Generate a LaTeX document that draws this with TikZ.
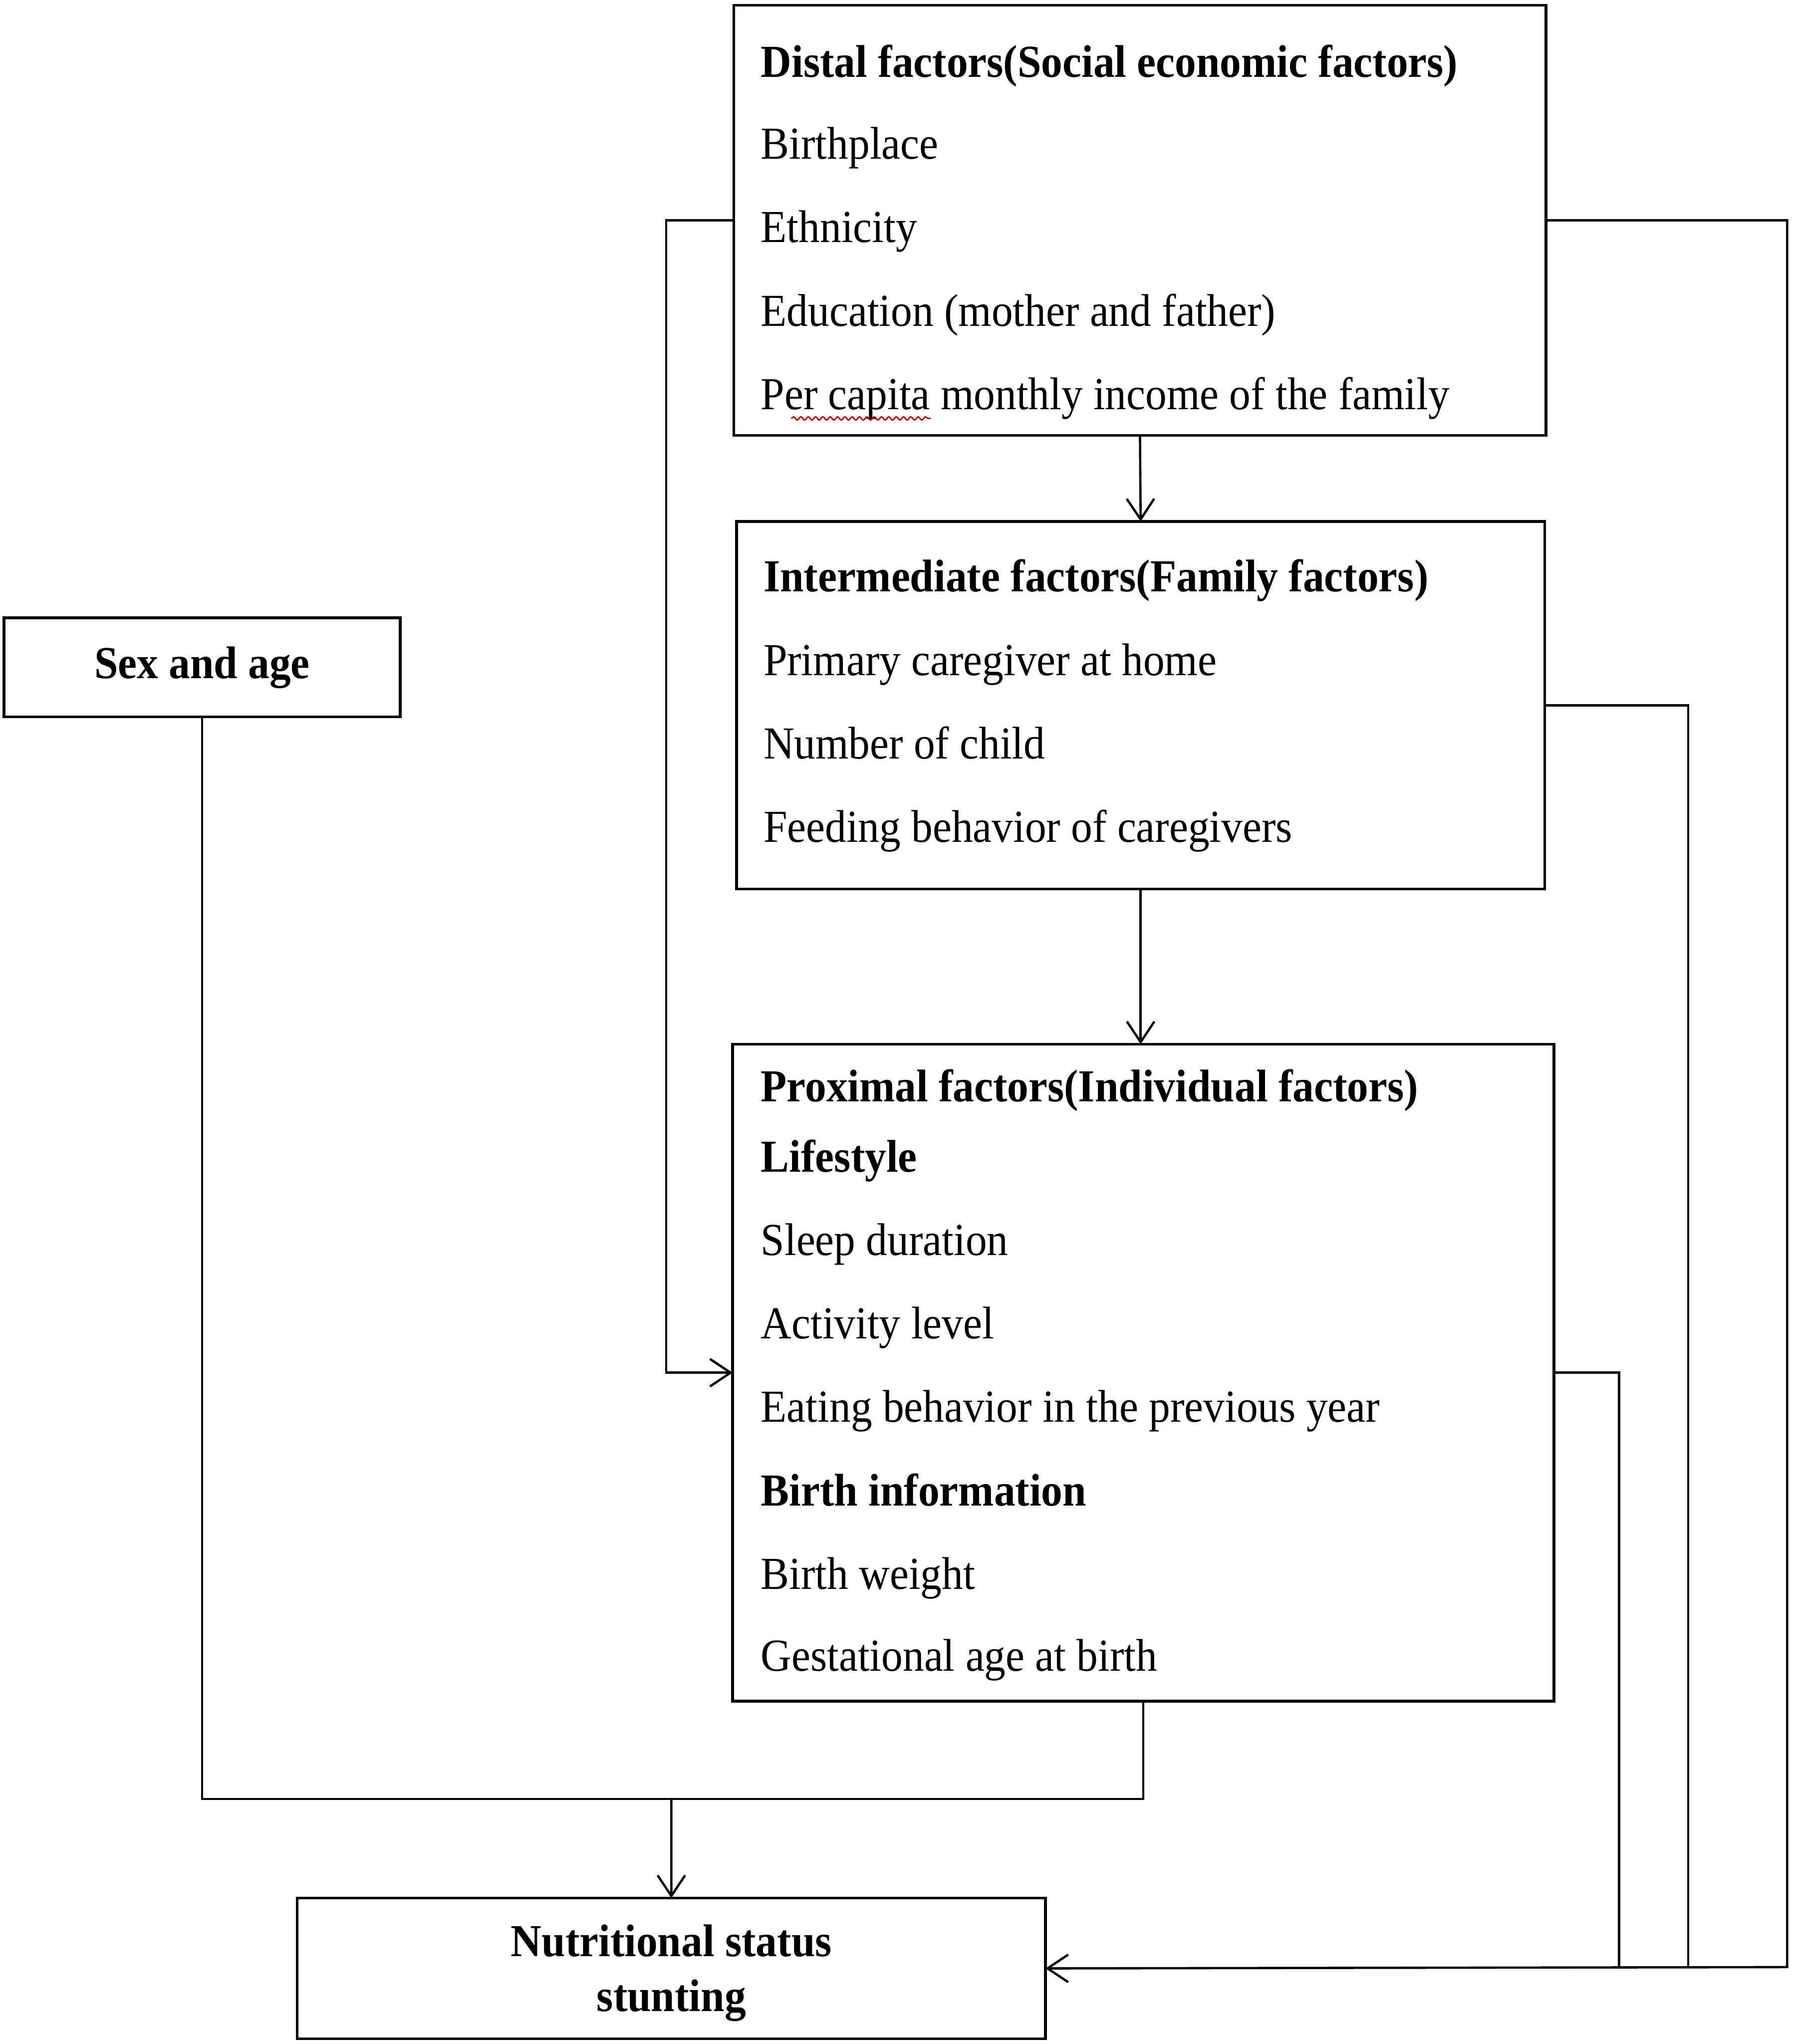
\documentclass[tikz,border=0pt]{standalone}
\usepackage{fontspec}
\setmainfont{Liberation Serif}[FakeStretch=0.93]
\usetikzlibrary{arrows.meta,positioning,decorations.pathmorphing}

\tikzset{
  box/.style={draw,line width=.6pt,outer sep=0pt,inner sep=0pt},
  txt/.style={anchor=base west,inner sep=0pt},
  conn/.style={line width=.5pt},
  arr/.style={conn,-{Straight Barb[length=4.5pt,width=6pt]}}
}

\begin{document}
\begin{tikzpicture}[x=1cm,y=-1cm,font=\fontsize{10}{12}\selectfont]
\useasboundingbox (0,0) rectangle (13.76,15.68);
% boxes
\node[box,anchor=north west,minimum width=6.23cm,minimum height=3.30cm] (distal) at (5.63,.04) {};
\node[box,anchor=north west,minimum width=6.20cm,minimum height=2.82cm] (inter) at (5.65,4.00) {};
\node[box,anchor=north west,minimum width=6.30cm,minimum height=5.04cm] (prox) at (5.62,8.01) {};
\node[box,anchor=north west,minimum width=3.04cm,minimum height=.76cm,font=\fontsize{10}{12}\selectfont\bfseries] (sexage) at (.03,4.74) {Sex and age};
\node[box,anchor=north west,minimum width=5.74cm,minimum height=1.08cm,align=center,font=\fontsize{10}{12}\selectfont\bfseries] (status) at (2.28,14.56) {\rule{0pt}{9pt}Nutritional status\\stunting};
% distal text
\node[txt,font=\bfseries] (d0) at (5.83,.59) {Distal factors(Social economic factors)};
\node[txt] (d1) at (5.83,1.22) {Birthplace};
\node[txt] (d2) at (5.83,1.86) {Ethnicity};
\node[txt] (d3) at (5.83,2.50) {Education (mother and father)};
\node[txt] (d4) at (5.83,3.14) {Per capita monthly income of the family};
\draw[red!70!black,line width=.3pt,decorate,decoration={snake,amplitude=.35pt,segment length=1.6pt}] (6.07,3.21) -- (7.14,3.21);
% intermediate text
\node[txt,font=\bfseries] (i0) at (5.85,4.54) {Intermediate factors(Family factors)};
\node[txt] (i1) at (5.85,5.18) {Primary caregiver at home};
\node[txt] (i2) at (5.85,5.82) {Number of child};
\node[txt] (i3) at (5.85,6.46) {Feeding behavior of caregivers};
% proximal text
\node[txt,font=\bfseries] (p0) at (5.83,8.45) {Proximal factors(Individual factors)};
\node[txt,font=\bfseries] (p1) at (5.83,8.99) {Lifestyle};
\node[txt] (p2) at (5.83,9.63) {Sleep duration};
\node[txt] (p3) at (5.83,10.27) {Activity level};
\node[txt] (p4) at (5.83,10.91) {Eating behavior in the previous year};
\node[txt,font=\bfseries] (p5) at (5.83,11.55) {Birth information};
\node[txt] (p6) at (5.83,12.19) {Birth weight};
\node[txt] (p7) at (5.83,12.82) {Gestational age at birth};
% connectors
\coordinate (merge) at (5.15,13.80);
\coordinate (jinter) at (12.95,15.09);
\coordinate (jprox) at (12.42,15.09);
\draw[arr] (distal.south) -- (inter.north);
\draw[arr] (inter.south) -- (inter.south |- prox.north);
\draw[arr] (distal.west) -- ++(-.52,0) |- (prox.west);
\draw[arr] (distal.east) -| (13.71,15.09) -- (status.east);
\draw[conn] (inter.east) -| (jinter);
\draw[conn] (prox.east) -| (jprox);
\draw[conn] (sexage.south) |- (prox.south |- merge) -- (prox.south);
\draw[arr] (merge) -- (status.north);
\end{tikzpicture}
\end{document}
